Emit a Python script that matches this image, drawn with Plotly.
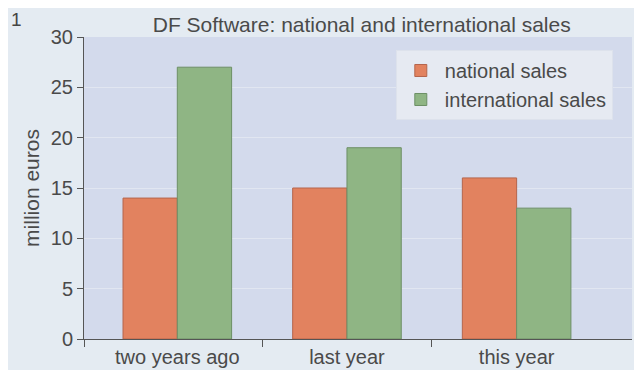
import plotly.graph_objects as go

periods = ["two years ago", "last year", "this year"]
national_sales = [14, 15, 16]
international_sales = [27, 19, 13]

FONT = "Liberation Sans, Arial, sans-serif"
TEXT = "#4a4a4a"

fig = go.Figure()

fig.add_trace(go.Bar(
    x=[0, 1, 2],
    y=national_sales,
    name="national sales",
    marker=dict(color="#e2825f", line=dict(color="#b5654c", width=1))
))
fig.add_trace(go.Bar(
    x=[0, 1, 2],
    y=international_sales,
    name="international sales",
    marker=dict(color="#8fb584", line=dict(color="#6d8f66", width=1))
))

# the page puts the figure 8px in from the top-left, margins make up for it
fig.update_layout(
    width=642,
    height=370,
    margin=dict(l=76, r=18, t=29, b=39, autoexpand=False),
    paper_bgcolor="#e4ebf2",
    plot_bgcolor="#d3daec",
    barmode="group",
    bargap=0.36,
    bargroupgap=0,
    font=dict(family=FONT, color=TEXT, size=20),
    title=dict(
        text="DF Software: national and international sales",
        x=0.551, xanchor="center",
        y=0.955, yanchor="middle",
        yref="container",
        font=dict(family=FONT, size=21, color=TEXT)
    ),
    legend=dict(
        x=0.569, y=0.957, xanchor="left", yanchor="top",
        bgcolor="#e6eaf2",
        bordercolor="#dde2ec", borderwidth=1,
        font=dict(family=FONT, size=20, color=TEXT),
        itemwidth=38,
        tracegroupgap=0
    ),
    showlegend=True
)

fig.update_xaxes(
    range=[-0.55, 2.68],
    tickvals=[0, 1, 2],
    ticktext=periods,
    ticks="",
    automargin=False,
    showgrid=False,
    showline=True, linecolor="#555555", linewidth=1,
    tickfont=dict(family=FONT, size=20, color=TEXT),
    minor=dict(tickmode="array", tickvals=[-0.55, 0.5, 1.5],
               ticks="outside", ticklen=7, tickcolor="#555555", showgrid=False),
    zeroline=False
)

fig.update_yaxes(
    range=[0, 30],
    dtick=5,
    ticks="outside", ticklen=6, tickcolor="#555555",
    automargin=False,
    showline=True, linecolor="#555555", linewidth=1,
    showgrid=True, gridcolor="#e1e6f1", gridwidth=1,
    zeroline=False,
    tickfont=dict(family=FONT, size=20, color=TEXT),
    title=dict(text="million euros", font=dict(family=FONT, size=21, color=TEXT), standoff=5)
)

fig.add_annotation(
    text="1", xref="paper", yref="paper",
    x=-0.124, y=1.058, xanchor="center", yanchor="middle",
    showarrow=False, font=dict(family=FONT, size=19, color="#444444")
)

fig.write_html("out.html")
